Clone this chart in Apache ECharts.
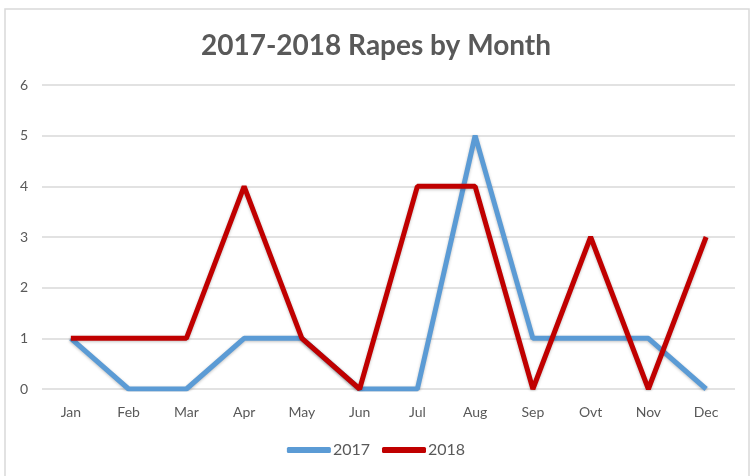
<!DOCTYPE html>
<html>
<head>
<meta charset="utf-8">
<script src="https://cdn.jsdelivr.net/npm/echarts@6/dist/echarts.min.js"></script>
<style>
  html, body { margin: 0; padding: 0; background: #fff; }
  #main { width: 752px; height: 476px; }
</style>
</head>
<body>
<div id="main"></div>
<script>
// chart data
var months = ['Jan', 'Feb', 'Mar', 'Apr', 'May', 'Jun', 'Jul', 'Aug', 'Sep', 'Ovt', 'Nov', 'Dec'];
var data2017 = [1, 0, 0, 1, 1, 0, 0, 5, 1, 1, 1, 0];
var data2018 = [1, 1, 1, 4, 1, 0, 4, 4, 0, 3, 0, 3];
var yTicks = [0, 1, 2, 3, 4, 5, 6];

var myChart = echarts.init(document.getElementById('main'));

var textColor = '#595959';
var font = 'Lato, "Open Sans", sans-serif';

var option = {
    backgroundColor: '#fff',
    animation: false,
    textStyle: { fontFamily: font },
    graphic: [{
        type: 'rect',
        shape: { x: 5, y: 9, width: 744, height: 480 },
        style: { fill: 'none', stroke: '#d9d9d9', lineWidth: 1.5 },
        silent: true
    }],
    title: {
        text: '2017-2018 Rapes by Month',
        left: 'center',
        top: 27,
        textStyle: { color: textColor, fontSize: 28, fontWeight: 'bold', fontFamily: font }
    },
    legend: {
        bottom: 13,
        left: 'center',
        itemWidth: 44,
        itemHeight: 6,
        itemGap: 12,
        icon: 'roundRect',
        textStyle: { color: textColor, fontSize: 16, padding: [0, 0, 0, -3] },
        data: ['2017', '2018']
    },
    grid: { left: 42, right: 17, top: 85, bottom: 87 },
    xAxis: {
        type: 'category',
        data: months,
        boundaryGap: true,
        axisLine: { show: false },
        axisTick: { show: false },
        axisLabel: { color: textColor, fontSize: 14, margin: 16 }
    },
    yAxis: {
        type: 'value',
        min: yTicks[0],
        max: yTicks[yTicks.length - 1],
        interval: 1,
        axisLine: { show: false },
        axisTick: { show: false },
        axisLabel: { color: textColor, fontSize: 14, margin: 14 },
        splitLine: { lineStyle: { color: '#d9d9d9', width: 1.5 } }
    },
    series: [{
        name: '2017',
        type: 'line',
        data: data2017,
        symbol: 'none',
        color: '#5B9BD5',
        lineStyle: { width: 5, color: '#5B9BD5', shadowColor: 'rgba(0,0,0,0.25)', shadowBlur: 3, shadowOffsetY: 1 },
        z: 2
    }, {
        name: '2018',
        type: 'line',
        data: data2018,
        symbol: 'none',
        color: '#C00000',
        lineStyle: { width: 5, color: '#C00000', shadowColor: 'rgba(0,0,0,0.25)', shadowBlur: 3, shadowOffsetY: 1 },
        z: 3
    }]
};

myChart.setOption(option);
</script>
</body>
</html>
